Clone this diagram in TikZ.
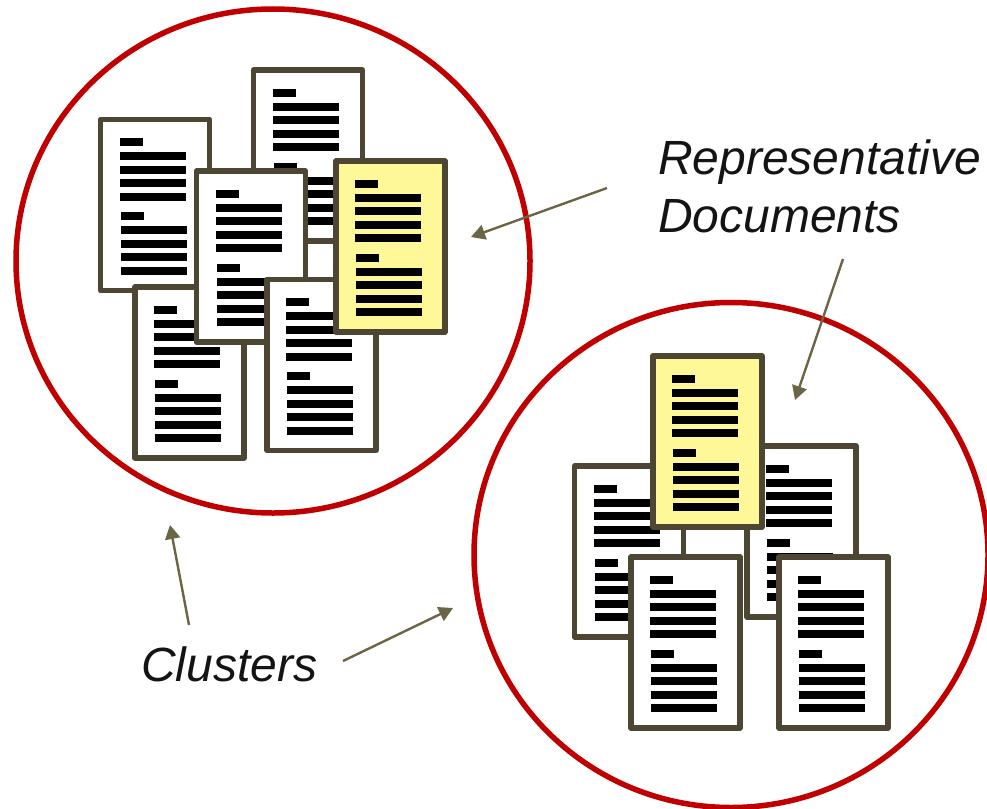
\documentclass[tikz,border=0pt]{standalone}
\usepackage{fontspec}
\setmainfont{Liberation Sans}
\usetikzlibrary{arrows.meta}
\definecolor{docedge}{HTML}{4D4632}
\definecolor{docyellow}{HTML}{FFF899}
\definecolor{ringred}{HTML}{C00000}
\definecolor{arrowc}{HTML}{6B6546}
\tikzset{
  docbox/.style={draw=docedge,line width=5.5pt,line join=round,anchor=north west,inner sep=0pt,outer sep=0pt,minimum width=109pt,minimum height=171pt},
  ring/.style={draw=ringred,line width=5.5pt,fill=none},
  pointer/.style={draw=arrowc,line width=2.4pt,-{Triangle[length=14pt,width=15pt]}},
  caption/.style={font=\fontsize{48}{56}\selectfont\itshape,text=black!92,align=left,inner sep=0pt,anchor=west}
}
\newcommand{\docpage}[4]{%
  \node[docbox,fill=#4] (#1) at (#2,#3) {};
  \begin{scope}[shift={(#2,#3)}]
    \fill[black] (19,18.5) rectangle ++(23,8);
    \foreach \yy in {32.5,46,59.5,73} \fill[black] (19,\yy) rectangle ++(66,8);
    \fill[black] (20,92.8) rectangle ++(23,8);
    \foreach \yy in {106.5,120,133.5,147} \fill[black] (20,\yy) rectangle ++(66,8);
  \end{scope}}
\begin{document}
\begin{tikzpicture}[x=1pt,y=-1pt]
\useasboundingbox (0,0) rectangle (987,808);
\fill[white] (0,0) rectangle (987,808);
\begin{scope}
\clip (0,0) rectangle (987,808);
\draw[ring] (273,261) ellipse [x radius=257,y radius=252];
\draw[ring] (731,555) ellipse [x radius=257,y radius=252.5];
\end{scope}
% left cluster
\docpage{la}{253.5}{70}{white}
\docpage{lb}{100.5}{119.5}{white}
\docpage{lc}{135}{287}{white}
\docpage{ld}{196.5}{171}{white}
\docpage{le}{267}{279.5}{white}
\docpage{lf}{336}{161}{docyellow}
% right cluster
\docpage{ra}{574.5}{466}{white}
\docpage{rb}{747}{446}{white}
\docpage{rc}{653}{356}{docyellow}
\docpage{rd}{631}{557}{white}
\docpage{re}{779}{557}{white}
% labels
\node[caption] (rep) at (658,162) {Representative};
\node[caption] (docs) at (658,216.5) {Documents};
\node[caption] (clu) at (141,664) {Clusters};
% pointers
\coordinate (p1s) at (607,188);
\coordinate (p1e) at (471,237);
\coordinate (p2s) at (843,259);
\coordinate (p2e) at (795,400);
\coordinate (p3s) at (189,625);
\coordinate (p3e) at (170,525);
\coordinate (p4s) at (343,661);
\coordinate (p4e) at (453,608);
\draw[pointer] (p1s) -- (p1e);
\draw[pointer] (p2s) -- (p2e);
\draw[pointer] (p3s) -- (p3e);
\draw[pointer] (p4s) -- (p4e);
\end{tikzpicture}
\end{document}
